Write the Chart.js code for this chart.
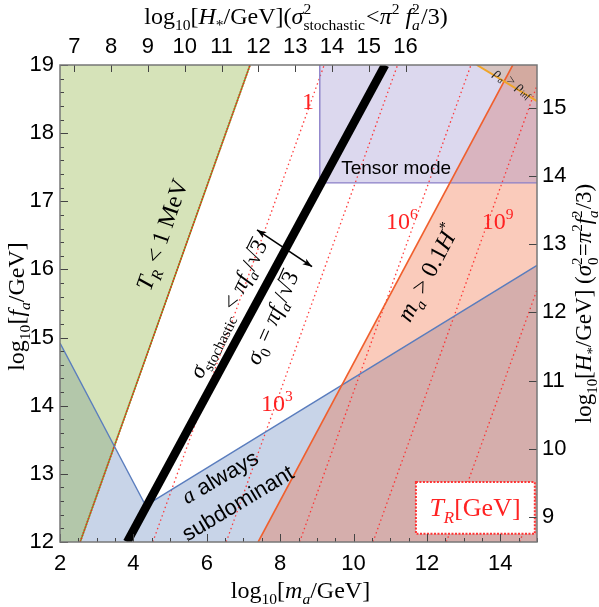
<!DOCTYPE html>
<html><head><meta charset="utf-8">
<script src="https://cdn.jsdelivr.net/npm/chart.js@4.4.0/dist/chart.umd.min.js"></script>
<style>html,body{margin:0;padding:0;background:#fff;}</style>
</head><body>
<canvas id="c" width="599" height="607"></canvas>
<script>
// ---------- data (log10 m_a , log10 f_a) ----------
const xTicks = [2,4,6,8,10,12,14];
const yTicks = [12,13,14,15,16,17,18,19];
const topTicks = [7,8,9,10,11,12,13,14,15,16];
const rightTicks = [9,10,11,12,13,14,15];
const xRange = [2,15];
const yRange = [12,19];
const topRange = [6.61,19.57];
const rightRange = [8.63,15.63];

const greenRegion  = [[2,12],[2.55,12],[7.18,19],[2,19]];
const blueRegion   = [[2,14.92],[4.29,12.58],[4.53,12.60],[15,16.06],[15,12],[2,12]];
const redRegion    = [[7.40,12],[14.34,19],[15,19],[15,12]];
const tensorRegion = [[9.08,17.27],[9.08,19],[15,19],[15,17.27]];
const rhoRegion    = [[13.36,19],[15,19],[15,18.47]];

const blackLine  = [[3.83,12],[10.86,19]];
const orangeLine = [[7.40,12],[14.34,19]];
const greenEdge  = [[2.55,12],[7.18,19]];
const blueEdgeL  = [[2,14.92],[4.29,12.58]];
const blueEdgeR  = [[4.53,12.60],[15,16.06]];
const tensorEdge = [[9.08,19],[9.08,17.27],[15,17.27]];
const rhoEdge    = [[13.36,19],[15,18.47]];

// T_R contours (dotted): foot at f=12, top at f=19
const trFootX = [4.53,6.53,8.53,10.53,12.53,14.53];
const trTopX  = [9.20,11.20,13.20,15.20,17.20,19.20];

const arrowPts = [[7.37,16.58],[8.87,16.04]];

// ---------- helpers ----------
const pts = a => a.map(p => ({x:p[0], y:p[1]}));
let ord = 100;
function poly(a, color){ return {data:pts(a), showLine:true, fill:'shape', backgroundColor:color, borderWidth:0, pointRadius:0, order:ord--}; }
function line(a, color, w, dash){ return {data:pts(a), showLine:true, fill:false, borderColor:color, borderWidth:w, borderDash:dash||[], pointRadius:0, order:ord--, borderCapStyle:'butt'}; }

const datasets = [];
datasets.push(poly(blueRegion,  'rgba(72,112,178,0.30)'));
datasets.push(poly(greenRegion, 'rgba(140,178,60,0.36)'));
datasets.push(poly(redRegion,   'rgba(240,96,50,0.33)'));
datasets.push(poly(tensorRegion,'rgba(140,126,200,0.30)'));
datasets.push(poly(rhoRegion,   'rgba(200,150,90,0.30)'));
trFootX.forEach((fx,i) => datasets.push(line([[fx,12],[trTopX[i],19]], 'rgba(255,40,40,0.9)', 1.3, [1.5,3])));
datasets.push(line(greenEdge, 'rgb(120,160,40)', 1.6));
datasets.push(line(greenEdge, 'rgb(230,50,30)', 1.6, [1.5,1.5]));
datasets.push(line(blueEdgeL, 'rgb(90,125,190)', 1.4));
datasets.push(line(blueEdgeR, 'rgb(90,125,190)', 1.4));
datasets.push(line(tensorEdge,'rgb(140,128,200)', 1.4));
datasets.push(line(orangeLine,'rgb(240,95,45)', 1.6));
datasets.push(line(rhoEdge,   'rgb(240,165,40)', 2));
datasets.push(line(blackLine, '#000', 8.5));

const SERIF = '"Liberation Serif", "Times New Roman", serif';
const SANS  = '"Liberation Sans", Arial, sans-serif';

function fontFor(style, S){
  const it = (style==='i'||style==='ib'||style==='ip') ? 'italic ' : '';
  const small = (style==='b'||style==='ib'||style==='p'||style==='ip');
  const fam = style==='s' ? SANS : SERIF;
  return it + (small ? S*0.65 : S) + 'px ' + fam;
}
function rich(ctx, segs, x, y, rot, S, color){
  ctx.save();
  ctx.translate(x,y); ctx.rotate(rot*Math.PI/180);
  ctx.fillStyle = color || '#000'; ctx.strokeStyle = color || '#000';
  ctx.textBaseline = 'alphabetic'; ctx.textAlign = 'left';
  const ws = segs.map(sg => {
    const [t, st, ex] = sg;
    if (st==='ps' || st==='pis'){
      ctx.font = fontFor('p',S); const a = ctx.measureText(t).width;
      ctx.font = fontFor(st==='pis'?'ib':'b',S); const b = ctx.measureText(ex).width;
      return Math.max(a,b) + S*0.05;
    }
    ctx.font = fontFor(st==='ov'?'n':st,S); return ctx.measureText(t).width;
  });
  const W = ws.reduce((a,b)=>a+b,0);
  let cx = -W/2; const y0 = S*0.32;
  segs.forEach((sg,i) => {
    const [t, st, ex] = sg;
    if (st==='ps' || st==='pis'){
      ctx.font = fontFor('p',S); ctx.fillText(t, cx, y0 - S*0.42);
      ctx.font = fontFor(st==='pis'?'ib':'b',S); ctx.fillText(ex, cx, y0 + S*0.28);
    } else if (st==='b'||st==='ib'){
      ctx.font = fontFor(st,S); ctx.fillText(t, cx, y0 + S*0.25);
    } else if (st==='p'||st==='ip'){
      ctx.font = fontFor(st,S); ctx.fillText(t, cx, y0 - S*0.42);
    } else {
      ctx.font = fontFor(st==='ov'?'n':st,S); ctx.fillText(t, cx, y0);
      if (st==='ov'){ ctx.lineWidth = S*0.05; ctx.beginPath(); ctx.moveTo(cx-1, y0-S*0.74); ctx.lineTo(cx+ws[i]+1, y0-S*0.74); ctx.stroke(); }
    }
    cx += ws[i];
  });
  ctx.restore();
}

const labels = [
  {p:[4.78,16.51], rot:-71, S:24, segs:[['T','i'],['R','ib'],[' < 1 MeV','n']]},
  {p:[6.58,15.42], rot:-64, S:23, segs:[['σ','i'],['stochastic','b'],[' < ','n'],['π','i'],['f','i'],['a','ib'],['/√','n'],['3','ov']]},
  {p:[7.78,15.29], rot:-66, S:23, segs:[['σ','i'],['0','b'],[' = ','n'],['π','i'],['f','i'],['a','ib'],['/√','n'],['3','ov']]},
  {p:[12.03,15.95], rot:-62, S:24, segs:[['m','i'],['a','ib'],[' > 0.1','n'],['H','i'],['*','p']]},
  {p:[11.16,17.49], rot:0, S:19, segs:[['Tensor mode','s']]},
  {p:[6.36,12.95], rot:-30, S:22, segs:[['a','i'],[' always','s']]},
  {p:[6.85,12.57], rot:-31, S:22, segs:[['subdominant','s']]},
  {p:[8.76,18.46], rot:0, S:24, color:'#f22', segs:[['1','n']]},
  {p:[7.91,14.04], rot:0, S:24, color:'#f22', segs:[['10','n'],['3','p']]},
  {p:[11.32,16.70], rot:0, S:24, color:'#f22', segs:[['10','n'],['6','p']]},
  {p:[13.93,16.70], rot:0, S:24, color:'#f22', segs:[['10','n'],['9','p']]},
  {p:[14.36,18.75], rot:31, S:14, color:'#222', segs:[['ρ','i'],['a','ib'],[' > ','n'],['ρ','i'],['inf','ib']]}
];
const trBox = {x0:11.70, x1:14.94, y0:12.12, y1:12.88, tp:[13.31,12.50]};

const decor = {
  id:'decor',
  afterDatasetsDraw(chart){
    const ctx = chart.ctx, ca = chart.chartArea;
    const xs = chart.scales.x, ys = chart.scales.y, x2 = chart.scales.x2, y2 = chart.scales.y2;
    ctx.save();
    const a0 = [xs.getPixelForValue(arrowPts[0][0]), ys.getPixelForValue(arrowPts[0][1])];
    const a1 = [xs.getPixelForValue(arrowPts[1][0]), ys.getPixelForValue(arrowPts[1][1])];
    ctx.strokeStyle='#000'; ctx.fillStyle='#000'; ctx.lineWidth=1.6;
    ctx.beginPath(); ctx.moveTo(a0[0],a0[1]); ctx.lineTo(a1[0],a1[1]); ctx.stroke();
    const ang = Math.atan2(a1[1]-a0[1], a1[0]-a0[0]);
    [[a1,ang],[a0,ang+Math.PI]].forEach(([p,t])=>{
      ctx.beginPath(); ctx.moveTo(p[0],p[1]);
      ctx.lineTo(p[0]-10*Math.cos(t-0.35), p[1]-10*Math.sin(t-0.35));
      ctx.lineTo(p[0]-7*Math.cos(t), p[1]-7*Math.sin(t));
      ctx.lineTo(p[0]-10*Math.cos(t+0.35), p[1]-10*Math.sin(t+0.35));
      ctx.closePath(); ctx.fill();
    });
    const bx0 = xs.getPixelForValue(trBox.x0), bx1 = xs.getPixelForValue(trBox.x1);
    const by0 = ys.getPixelForValue(trBox.y1), by1 = ys.getPixelForValue(trBox.y0);
    ctx.fillStyle='#fff'; ctx.fillRect(bx0,by0,bx1-bx0,by1-by0);
    ctx.setLineDash([2,1.5]); ctx.strokeStyle='#f33'; ctx.lineWidth=2;
    ctx.strokeRect(bx0,by0,bx1-bx0,by1-by0); ctx.setLineDash([]);
    rich(ctx, [['T','i'],['R','ib'],['[GeV]','n']], xs.getPixelForValue(trBox.tp[0]), ys.getPixelForValue(trBox.tp[1]), 0, 26, '#f22');
    labels.forEach(l => rich(ctx, l.segs, xs.getPixelForValue(l.p[0]), ys.getPixelForValue(l.p[1]), l.rot, l.S, l.color));
    ctx.strokeStyle='#444'; ctx.lineWidth=1;
    ctx.beginPath();
    for (let v = xRange[0]; v <= xRange[1]+1e-9; v += 0.5){
      const px = Math.round(xs.getPixelForValue(v))+0.5; const L = (Math.abs(v%2)<1e-9)?8:4;
      ctx.moveTo(px, ca.bottom); ctx.lineTo(px, ca.bottom-L);
    }
    for (let i = 0; i <= 35; i++){
      const v = yRange[0] + i*0.2; const py = Math.round(ys.getPixelForValue(v))+0.5; const L = (i%5===0)?8:4;
      ctx.moveTo(ca.left, py); ctx.lineTo(ca.left+L, py);
    }
    topTicks.forEach(v => { const px = Math.round(x2.getPixelForValue(v))+0.5; ctx.moveTo(px, ca.top); ctx.lineTo(px, ca.top+7); });
    rightTicks.forEach(v => { const py = Math.round(y2.getPixelForValue(v))+0.5; ctx.moveTo(ca.right, py); ctx.lineTo(ca.right-8, py); });
    ctx.stroke();
    ctx.strokeStyle='#777'; ctx.lineWidth=1.5;
    ctx.strokeRect(ca.left, ca.top, ca.right-ca.left, ca.bottom-ca.top);
    ctx.restore();
  },
  afterDraw(chart){
    const ctx = chart.ctx, ca = chart.chartArea;
    const midX = (ca.left+ca.right)/2, midY = (ca.top+ca.bottom)/2;
    rich(ctx, [['log','n'],['10','b'],['[','n'],['m','i'],['a','ib'],['/GeV]','n']], midX+2, 590, 0, 24);
    rich(ctx, [['log','n'],['10','b'],['[','n'],['f','i'],['a','ib'],['/GeV]','n']], 16, midY+3, -90, 24);
    rich(ctx, [['log','n'],['10','b'],['[','n'],['H','i'],['*','b'],['/GeV] (','n'],['σ','i'],['2','ps','0'],['=','n'],['π','i'],['2','p'],['f','i'],['2','pis','a'],['/3)','n']], 584, midY, -90, 23);
    rich(ctx, [['log','n'],['10','b'],['[','n'],['H','i'],['*','b'],['/GeV](','n'],['σ','i'],['2','ps','stochastic'],['<','n'],['π','i'],['2','p'],[' f','i'],['2','pis','a'],['/3)','n']], 296, 16, 0, 24);
  }
};

const tickFont = {family:'"Liberation Sans", Arial, sans-serif', size:22};
function fixed(arr){ return s => { s.ticks = arr.map(v => ({value:v})); }; }

new Chart(document.getElementById('c'), {
  type:'scatter',
  data:{datasets},
  options:{
    responsive:false, animation:false, devicePixelRatio:1, events:[],
    layout:{padding:0},
    plugins:{legend:{display:false}, tooltip:{enabled:false}},
    scales:{
      x:{type:'linear', position:'bottom', min:xRange[0], max:xRange[1], afterBuildTicks:fixed(xTicks),
         ticks:{font:tickFont, color:'#000', padding:9, maxRotation:0, autoSkip:false},
         grid:{display:false, drawTicks:false}, border:{display:false}, afterFit:s=>{s.height=65;}},
      x2:{type:'linear', position:'top', min:topRange[0], max:topRange[1], afterBuildTicks:fixed(topTicks),
         ticks:{font:tickFont, color:'#000', padding:5, maxRotation:0, autoSkip:false},
         grid:{display:false, drawTicks:false}, border:{display:false}, afterFit:s=>{s.height=65;}},
      y:{type:'linear', position:'left', min:yRange[0], max:yRange[1], afterBuildTicks:fixed(yTicks),
         ticks:{font:tickFont, color:'#000', padding:6, autoSkip:false},
         grid:{display:false, drawTicks:false}, border:{display:false}, afterFit:s=>{s.width=60;}},
      y2:{type:'linear', position:'right', min:rightRange[0], max:rightRange[1], afterBuildTicks:fixed(rightTicks),
         ticks:{font:tickFont, color:'#000', padding:5, autoSkip:false},
         grid:{display:false, drawTicks:false}, border:{display:false}, afterFit:s=>{s.width=62;}}
    }
  },
  plugins:[decor]
});
</script>
</body></html>
